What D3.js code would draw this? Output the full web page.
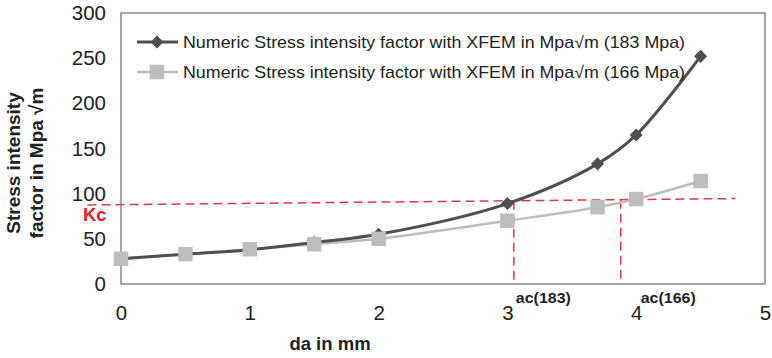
<!DOCTYPE html>
<html>
<head>
<meta charset="utf-8">
<script src="https://cdn.jsdelivr.net/npm/d3@7/dist/d3.min.js"></script>
<style>
  html, body { margin: 0; padding: 0; background: #fff; }
  svg { display: block; font-family: "Liberation Sans", Arial, sans-serif; }
</style>
</head>
<body>
<svg id="chart" width="772" height="358"></svg>
<script>
// Crack length (mm) at which the stress intensity factor was computed
const crackLength = [0, 0.5, 1, 1.5, 2, 3, 3.7, 4, 4.5];
// Stress intensity factor (MPa√m) for the two applied stress levels
const sif183 = [28, 33, 38, 46, 55, 89, 133, 165, 252];
const sif166 = [28, 33, 38.5, 44, 50, 70, 85, 94, 114];
const seriesNames = [
  "Numeric Stress intensity factor with XFEM in Mpa\u221Am (183 Mpa)",
  "Numeric Stress intensity factor with XFEM in Mpa\u221Am (166 Mpa)"
];
// Fracture toughness reference line (crack length, K) end points
const kcLine = [[-0.26, 87.5], [4.77, 94.6]];
// Critical crack lengths where each curve reaches Kc
const criticalNames = ["ac(183)", "ac(166)"];
const criticalLength = [3.05, 3.88];
const xTicks = [0, 1, 2, 3, 4, 5];
const yTicks = [0, 50, 100, 150, 200, 250, 300];

const svg = d3.select("#chart");
const plot = { left: 121, right: 765, top: 13, bottom: 284 };

const x = d3.scaleLinear().domain([0, 5]).range([plot.left, plot.right]);
const y = d3.scaleLinear().domain([0, 300]).range([plot.bottom, plot.top]);

// plot frame
svg.append("rect")
  .attr("x", plot.left).attr("y", plot.top)
  .attr("width", plot.right - plot.left).attr("height", plot.bottom - plot.top)
  .attr("fill", "none").attr("stroke", "#8a8a8a").attr("stroke-width", 1.5);

// axes (labels only, frame drawn above)
const yAxis = svg.append("g")
  .attr("transform", `translate(${plot.left},0)`)
  .call(d3.axisLeft(y).tickValues(yTicks).tickSize(0).tickPadding(15).tickFormat(d3.format("d")));
const xAxis = svg.append("g")
  .attr("transform", `translate(0,${plot.bottom})`)
  .call(d3.axisBottom(x).tickValues(xTicks).tickSize(0).tickPadding(21).tickFormat(d3.format("d")));
[yAxis, xAxis].forEach(g => {
  g.select(".domain").remove();
  g.selectAll("text")
    .attr("font-family", "Liberation Sans, Arial, sans-serif")
    .attr("font-size", 20.5).attr("fill", "#222");
});

// axis titles
svg.append("text")
  .attr("x", 330).attr("y", 350)
  .attr("text-anchor", "middle")
  .attr("font-size", 18.5).attr("font-weight", "bold").attr("fill", "#222")
  .text("da in mm");

const yTitle = svg.append("text")
  .attr("transform", "translate(26,163) rotate(-90)")
  .attr("text-anchor", "middle")
  .attr("font-size", 19).attr("font-weight", "bold").attr("fill", "#222");
yTitle.append("tspan").attr("x", 0).attr("dy", -6).text("Stress intensity");
yTitle.append("tspan").attr("x", 0).attr("dy", 23).text("factor in Mpa \u221Am");

// Kc reference lines
const red = "#e5364a";
svg.append("line")
  .attr("x1", x(kcLine[0][0])).attr("y1", y(kcLine[0][1]))
  .attr("x2", x(kcLine[1][0])).attr("y2", y(kcLine[1][1]))
  .attr("stroke", red).attr("stroke-width", 1.5).attr("stroke-dasharray", "9,5");

const kcAt = a => kcLine[0][1] + (kcLine[1][1] - kcLine[0][1]) * (a - kcLine[0][0]) / (kcLine[1][0] - kcLine[0][0]);
svg.selectAll(".crit").data(criticalLength).join("line")
  .attr("class", "crit")
  .attr("x1", d => x(d)).attr("x2", d => x(d))
  .attr("y1", d => y(kcAt(d))).attr("y2", y(0))
  .attr("stroke", red).attr("stroke-width", 1.5).attr("stroke-dasharray", "9,5");

const labelShift = [2, 20];
svg.selectAll(".critLabel").data(criticalNames).join("text")
  .attr("class", "critLabel")
  .attr("x", (d, i) => x(criticalLength[i]) + labelShift[i])
  .attr("y", 303)
  .attr("font-size", 15).attr("font-weight", "bold").attr("fill", "#222")
  .attr("textLength", 55).attr("lengthAdjust", "spacingAndGlyphs")
  .text(d => d);

svg.append("text")
  .attr("x", 83).attr("y", 221)
  .attr("font-size", 18.5).attr("font-weight", "bold").attr("fill", "#e8202e")
  .text("Kc");

// series
const darkColor = "#4f4f4f";
const lightColor = "#bdbdbd";
const lineDark = d3.line().x((d, i) => x(crackLength[i])).y(d => y(d)).curve(d3.curveCatmullRom.alpha(0.5));
const lineLight = d3.line().x((d, i) => x(crackLength[i])).y(d => y(d)).curve(d3.curveCatmullRom.alpha(0.5));

svg.append("path").datum(sif166).attr("d", lineLight)
  .attr("fill", "none").attr("stroke", lightColor).attr("stroke-width", 2.5);
svg.append("path").datum(sif183).attr("d", lineDark)
  .attr("fill", "none").attr("stroke", darkColor).attr("stroke-width", 3);

const diamond = d3.symbol().type(d3.symbolSquare).size(85);
const square = d3.symbol().type(d3.symbolSquare).size(210);

svg.selectAll(".m183").data(sif183).join("path")
  .attr("class", "m183")
  .attr("d", diamond)
  .attr("transform", (d, i) => `translate(${x(crackLength[i])},${y(d)}) rotate(45)`)
  .attr("fill", darkColor);
svg.selectAll(".m166").data(sif166).join("path")
  .attr("class", "m166")
  .attr("d", square)
  .attr("transform", (d, i) => `translate(${x(crackLength[i])},${y(d)})`)
  .attr("fill", lightColor);

// legend
const legend = svg.append("g");
const legendRows = [
  { name: seriesNames[0], color: darkColor, width: 3, symbol: diamond, rot: 45, yPos: 42 },
  { name: seriesNames[1], color: lightColor, width: 2.5, symbol: square, rot: 0, yPos: 72 }
];
legendRows.forEach(r => {
  legend.append("line")
    .attr("x1", 137).attr("x2", 178).attr("y1", r.yPos).attr("y2", r.yPos)
    .attr("stroke", r.color).attr("stroke-width", r.width);
  legend.append("path")
    .attr("d", r.symbol)
    .attr("transform", `translate(157,${r.yPos}) rotate(${r.rot})`)
    .attr("fill", r.color);
  legend.append("text")
    .attr("x", 183).attr("y", r.yPos + 6)
    .attr("font-size", 17).attr("fill", "#222")
    .attr("textLength", 502).attr("lengthAdjust", "spacingAndGlyphs")
    .text(r.name);
});
</script>
</body>
</html>
